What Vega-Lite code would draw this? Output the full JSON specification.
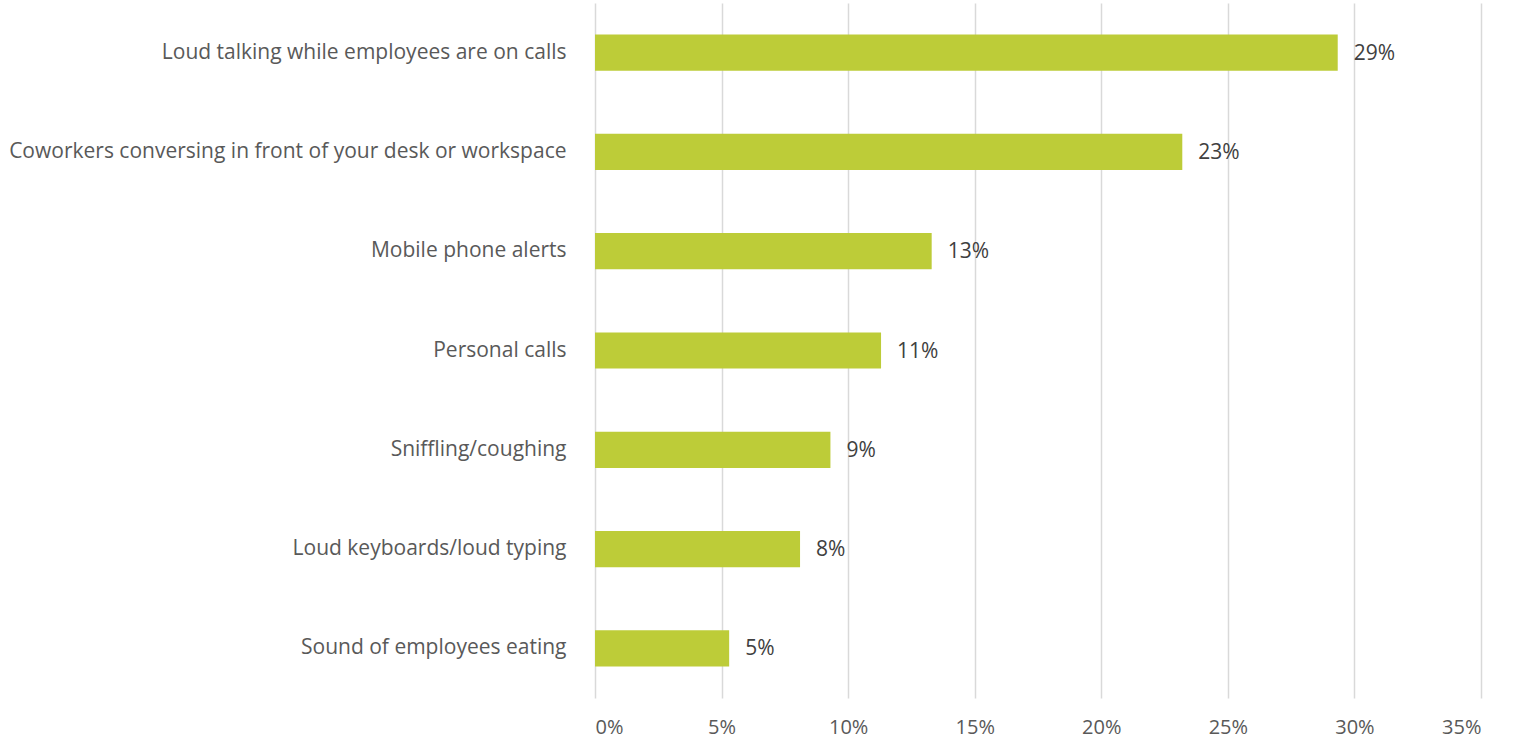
{
  "$schema": "https://vega.github.io/schema/vega-lite/v6.json",
  "autosize": "none",
  "width": 886,
  "height": 695,
  "padding": {"left": 595, "top": 3, "right": 32, "bottom": 42},
  "background": "white",
  "config": {
    "view": {"stroke": null},
    "font": "Open Sans"
  },
  "data": {
    "values": [
      {"category": "Loud talking while employees are on calls", "value": 0.2934},
      {"category": "Coworkers conversing in front of your desk or workspace", "value": 0.232},
      {"category": "Mobile phone alerts", "value": 0.133},
      {"category": "Personal calls", "value": 0.113},
      {"category": "Sniffling/coughing", "value": 0.093},
      {"category": "Loud keyboards/loud typing", "value": 0.081},
      {"category": "Sound of employees eating", "value": 0.053}
    ]
  },
  "encoding": {
    "y": {
      "field": "category",
      "type": "nominal",
      "sort": null,
      "scale": {"paddingInner": 0.635, "paddingOuter": 0.3175},
      "axis": {
        "title": null,
        "domain": false,
        "ticks": false,
        "grid": false,
        "labelPadding": 29,
        "labelFontSize": 21,
        "labelColor": "#595959",
        "labelFont": "Open Sans",
        "labelLimit": 700
      }
    },
    "x": {
      "field": "value",
      "type": "quantitative",
      "scale": {"domain": [0, 0.35], "nice": false},
      "axis": {
        "title": null,
        "format": ".0%",
        "values": [0, 0.05, 0.1, 0.15, 0.2, 0.25, 0.3, 0.35],
        "domain": false,
        "ticks": false,
        "grid": true,
        "gridColor": "#D9D9D9",
        "gridWidth": 1.5,
        "labelPadding": 19,
        "labelFontSize": 20,
        "labelColor": "#595959",
        "labelFont": "Open Sans"
      }
    }
  },
  "layer": [
    {"mark": {"type": "bar", "color": "#BDCC38"}},
    {
      "mark": {"type": "text", "align": "left", "baseline": "middle", "dx": 16, "dy": 1, "fontSize": 21, "color": "#404040", "font": "Open Sans"},
      "encoding": {"text": {"field": "value", "type": "quantitative", "format": ".0%"}}
    }
  ]
}
